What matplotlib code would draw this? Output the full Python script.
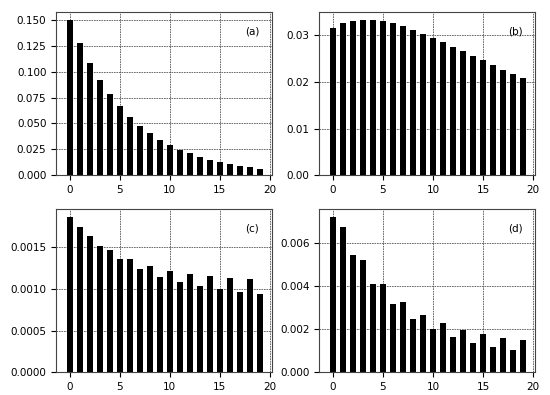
import matplotlib
matplotlib.use("Agg")
import matplotlib.pyplot as plt
import numpy as np

x = np.arange(20)

vals_a = [0.150, 0.1273, 0.1085, 0.0920, 0.0780, 0.0664, 0.0564, 0.0476, 0.0405, 0.0343,
          0.0292, 0.0246, 0.0211, 0.0178, 0.0149, 0.0126, 0.0107, 0.0091, 0.0078, 0.0065]
vals_b = [0.0316, 0.0327, 0.0332, 0.0334, 0.0334, 0.0331, 0.0326, 0.0320, 0.0312, 0.0304,
          0.0295, 0.0286, 0.0276, 0.0266, 0.0256, 0.0247, 0.0236, 0.0227, 0.0218, 0.0208]
vals_c = [0.001867, 0.001738, 0.001633, 0.001516, 0.001472, 0.001355, 0.001355, 0.001238,
          0.001274, 0.001149, 0.001218, 0.001081, 0.001181, 0.001032, 0.001153, 0.001000,
          0.001137, 0.000964, 0.001125, 0.000944]
vals_d = [0.00720, 0.00672, 0.00541, 0.00518, 0.00410, 0.00407, 0.00316, 0.00326, 0.00247,
          0.00267, 0.00199, 0.00227, 0.00163, 0.00197, 0.00137, 0.00176, 0.00120, 0.00159,
          0.00106, 0.00148]

panels = [vals_a, vals_b, vals_c, vals_d]
labels = ["(a)", "(b)", "(c)", "(d)"]

plt.rcParams["font.size"] = 7.5

fig, axes = plt.subplots(2, 2, figsize=(5.5, 3.95), dpi=100)
fig.subplots_adjust(left=0.102, right=0.973, top=0.970, bottom=0.057,
                    wspace=0.22, hspace=0.205)

for ax, vals, lab in zip(axes.flat, panels, labels):
    ax.bar(x, vals, width=0.6, color="black")
    ax.set_xticks([0, 5, 10, 15, 20])
    ax.set_xlim(-1.35, 20.2)
    # dotted-looking grid like the original
    ax.grid(True, linestyle=(0, (2, 1)), linewidth=0.6, color="#555555")
    ax.set_axisbelow(True)
    ax.text(0.91, 0.88, lab, transform=ax.transAxes, ha="center", va="center")
    for s in ax.spines.values():
        s.set_color("#444444")

axes[1, 0].set_yticks([0, 0.0005, 0.0010, 0.0015])
axes[1, 0].yaxis.set_major_formatter(matplotlib.ticker.FormatStrFormatter("%.4f"))

plt.savefig("out.png", dpi=100)
